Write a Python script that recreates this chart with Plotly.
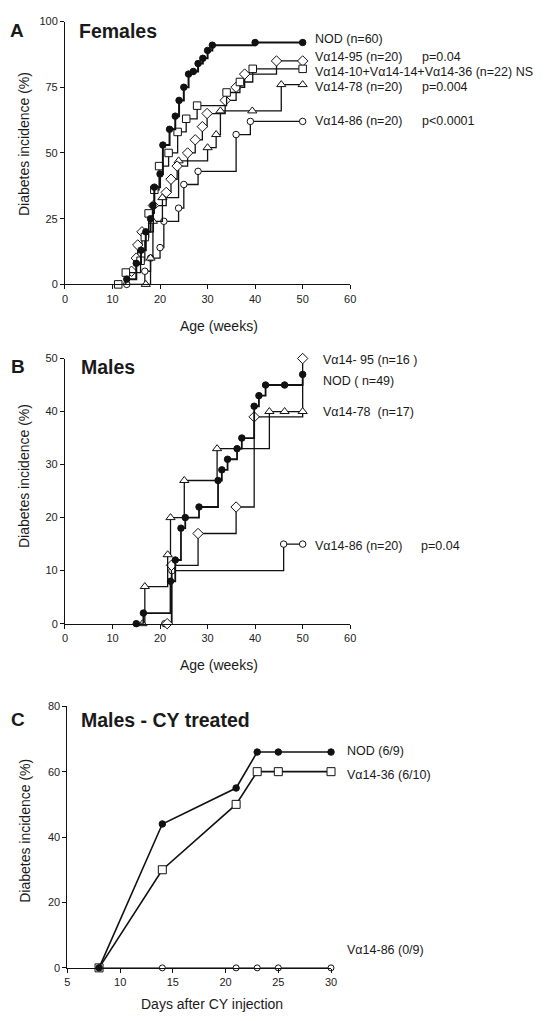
import plotly.graph_objects as go

W, H = 548, 1021

# ---------------- Panel A: Females ----------------
fa_nod_x = [13, 15, 16, 17, 18, 18.5, 18.8, 20, 20.6, 22, 23.2, 24, 25, 26, 27, 28, 29, 30, 31, 40, 50]
fa_nod_y = [2, 8, 13, 20, 25, 30, 37, 42, 53, 59, 64, 70, 75, 80, 81, 84, 86, 89, 91, 92, 92]

fa_sq_x = [11.2, 12.8, 15.9, 16.8, 17.6, 18.8, 19.8, 21.8, 23.7, 25.5, 27.8, 34, 36.8, 39.5, 50]
fa_sq_y = [0, 4.5, 9, 18, 27, 36, 45, 50, 58, 63, 68, 73, 77, 82, 82]

fa_di_x = [14, 15, 15.3, 16.2, 18.6, 21.3, 22.3, 23.6, 25.8, 27.4, 28.9, 29.9, 33.7, 36, 37.8, 44.5, 50]
fa_di_y = [5, 10, 15, 20, 30, 35, 40, 45, 50, 55, 60, 65, 70, 75, 80, 85, 85]

fa_tr_x = [17, 18, 18.5, 20.5, 23.9, 30, 31.8, 32.7, 39.4, 45.5, 50]
fa_tr_y = [0, 10, 24, 33, 47, 52, 57, 66, 66, 76, 76]

fa_ci_x = [13, 16.8, 18, 20, 20.8, 23.9, 25, 28, 36, 39, 50]
fa_ci_y = [0, 5, 10, 14, 24, 29, 38, 43, 57, 62, 62]

# ---------------- Panel B: Males ----------------
mb_nod_x = [15, 16.5, 22.2, 23.2, 24.4, 25.3, 28.2, 32.2, 33, 34.2, 36.2, 37.2, 39.8, 40.8, 42.2, 46.2, 50]
mb_nod_y = [0, 2, 8, 12, 18, 20, 22, 27, 29, 31, 33, 35, 41, 43, 45, 45, 47]

mb_tr_x = [16.3, 16.8, 21.6, 22.2, 25.1, 32, 43, 46.2, 50]
mb_tr_y = [0, 7, 13, 20, 27, 33, 40, 40, 40]

mb_di_x = [21.5, 22.4, 28, 36, 39.8, 50]
mb_di_y = [0, 11, 17, 22, 39, 50]

mb_ci_x = [21, 22.5, 46, 50]
mb_ci_y = [0, 10, 15, 15]

# ---------------- Panel C: Males - CY treated ----------------
c_days = [8, 14, 21, 23, 25, 30]
c_nod = [0, 44, 55, 66, 66, 66]
c_36 = [0, 30, 50, 60, 60, 60]
c_86 = [0, 0, 0, 0, 0, 0]


def px_x(p):
    return p / W


def px_y(p):
    return 1 - p / H


fig = go.Figure()

BLK = "#111111"


def add(x, y, sym, size, filled, xa, ya, shape="hv", lw=1.3):
    fig.add_trace(go.Scatter(
        x=x, y=y, mode="lines+markers", xaxis=xa, yaxis=ya,
        line=dict(color=BLK, width=lw, shape=shape),
        marker=dict(symbol=sym, size=size,
                    color=BLK if filled else "white",
                    line=dict(color=BLK, width=1)),
        cliponaxis=False, showlegend=False, hoverinfo="skip"))


# Panel A
add(fa_ci_x, fa_ci_y, "circle", 6.5, False, "x", "y")
add(fa_tr_x, fa_tr_y, "triangle-up", 8, False, "x", "y")
add(fa_di_x, fa_di_y, "diamond", 8, False, "x", "y")
add(fa_sq_x, fa_sq_y, "square", 7.5, False, "x", "y")
add(fa_nod_x, fa_nod_y, "circle", 6.5, True, "x", "y", lw=2)

# Panel B
add(mb_ci_x, mb_ci_y, "circle", 6.5, False, "x2", "y2")
add(mb_di_x, mb_di_y, "diamond", 8, False, "x2", "y2")
add(mb_tr_x, mb_tr_y, "triangle-up", 8, False, "x2", "y2")
add(mb_nod_x, mb_nod_y, "circle", 6.5, True, "x2", "y2", lw=1.8)

# Panel C
add(c_days, c_86, "circle", 6, False, "x3", "y3", shape="linear", lw=1.3)
add(c_days, c_36, "square", 8, False, "x3", "y3", shape="linear", lw=1.6)
add(c_days, c_nod, "circle", 6.5, True, "x3", "y3", shape="linear", lw=1.6)

axis_common = dict(showline=True, linecolor=BLK, linewidth=1, ticks="outside",
                   ticklen=4, tickcolor=BLK, showgrid=False, zeroline=False,
                   tickfont=dict(size=11, color="#222"))

fig.update_layout(
    width=W, height=H, margin=dict(l=0, r=0, t=0, b=0),
    paper_bgcolor="white", plot_bgcolor="white",
    font=dict(family="Liberation Sans, Arial, sans-serif", color="#1a1a1a"),
    xaxis=dict(domain=[px_x(63), px_x(353)], range=[0, 60], dtick=10, anchor="y", **axis_common),
    yaxis=dict(domain=[px_y(281.7), px_y(15.7)], range=[0, 100], dtick=25, anchor="x", **axis_common),
    xaxis2=dict(domain=[px_x(63), px_x(353)], range=[0, 60], dtick=10, anchor="y2", **axis_common),
    yaxis2=dict(domain=[px_y(625), px_y(356.7)], range=[0, 50], dtick=10, anchor="x2", **axis_common),
    xaxis3=dict(domain=[px_x(65.5), px_x(333.5)], range=[5, 30], dtick=5, anchor="y3", **axis_common),
    yaxis3=dict(domain=[px_y(973.3), px_y(708.6)], range=[0, 80], dtick=20, anchor="x3", **axis_common),
)


def label(text, x, y, size=12.5, bold=False, anchor="left", angle=0):
    fig.add_annotation(text=f"<b>{text}</b>" if bold else text,
                       x=px_x(x), y=px_y(y), xref="paper", yref="paper",
                       xanchor=anchor, yanchor="middle", showarrow=False,
                       textangle=angle, font=dict(size=size, color="#1a1a1a"))


# Panel letters and titles
label("A", 5, 25, size=19, bold=True)
label("Females", 75, 25, size=19.5, bold=True)
label("B", 6, 365, size=19, bold=True)
label("Males", 77, 365, size=19.5, bold=True)
label("C", 6, 722, size=19, bold=True)
label("Males - CY treated", 77, 722, size=19.5, bold=True)

# Axis titles
label("Diabetes incidence (%)", 22, 140, size=14, anchor="center", angle=-90)
label("Diabetes incidence (%)", 22, 476, size=14, anchor="center", angle=-90)
label("Diabetes incidence (%)", 23, 835, size=14, anchor="center", angle=-90)
label("Age (weeks)", 220, 324, size=14, anchor="center")
label("Age (weeks)", 220, 667, size=14, anchor="center")
label("Days after CY injection", 212, 1010, size=14, anchor="center")

# Series labels panel A
label("NOD (n=60)", 315, 33.3)
label("Vα14-95 (n=20)", 315, 51.7)
label("p=0.04", 423.7, 51.7)
label("Vα14-10+Vα14-14+Vα14-36 (n=22) NS", 315, 66.7)
label("Vα14-78 (n=20)", 315, 81.7)
label("p=0.004", 423.7, 81.7)
label("Vα14-86 (n=20)", 315, 116.7)
label("p<0.0001", 423.7, 116.7)

# Series labels panel B
label("Vα14- 95 (n=16 )", 323, 358.3)
label("NOD ( n=49)", 323, 379.3)
label("Vα14-78  (n=17)", 323, 411)
label("Vα14-86 (n=20)", 315.3, 546.7)
label("p=0.04", 423, 546.7)

# Series labels panel C
label("NOD (6/9)", 348, 754)
label("Vα14-36 (6/10)", 348, 777.7)
label("Vα14-86 (0/9)", 348, 955)

fig.write_html("out.html")
